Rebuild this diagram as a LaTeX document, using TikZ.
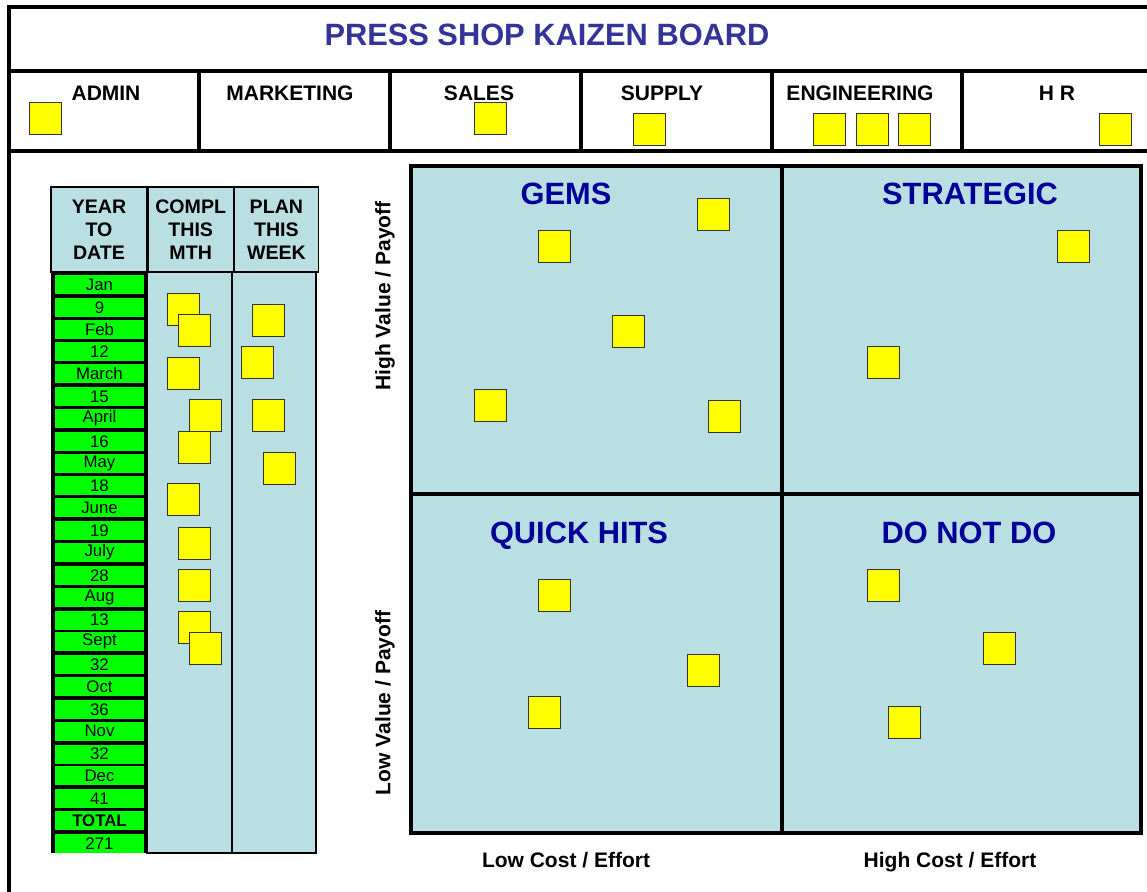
\documentclass[tikz,border=0pt]{standalone}
\usepackage{fontspec}
\setmainfont{Liberation Sans}
\usepackage{xcolor}
\usepackage{tikz}
\usetikzlibrary{positioning}
\definecolor{boardblue}{HTML}{BADFE3}
\definecolor{titleblue}{HTML}{333399}
\definecolor{quadblue}{HTML}{000099}
\definecolor{notegreen}{HTML}{00FF00}
\definecolor{stickyy}{HTML}{FFFF00}
\tikzset{
  boardline/.style={line width=2pt,black},
  thinl/.style={line width=0.6pt,black},
  sticky/.style={draw=black!80,line width=0.5pt,fill=stickyy,minimum size=16pt,inner sep=0pt},
  dept/.style={font=\fontsize{10.5}{12}\selectfont\bfseries,anchor=base,inner sep=0pt},
  quad/.style={font=\fontsize{15.4}{18}\selectfont\bfseries,text=quadblue,anchor=base,inner sep=0pt},
  colhead/.style={draw,thinl,fill=boardblue,align=center,inner sep=0pt,minimum height=42.5pt,font=\fontsize{9.8}{11.5}\selectfont\bfseries},
  gcell/.style={fill=notegreen,minimum width=44.5pt,minimum height=9.5pt,inner sep=0pt,font=\fontsize{8.4}{9}\selectfont},
  axislbl/.style={font=\fontsize{10.5}{12}\selectfont\bfseries,inner sep=0pt}
}
\begin{document}
\begin{tikzpicture}[x=0.5pt,y=-0.5pt]
\useasboundingbox (0,0) rectangle (1147,891);
\clip (0,0) rectangle (1147,891);
% board frame, title row and department row
\draw[boardline] (9,7) rectangle (1170,910);
\draw[boardline] (9,71) -- (1170,71);
\draw[boardline] (9,151) -- (1170,151);
\foreach \xx in {199,390,581,772,962}{\draw[boardline] (\xx,71) -- (\xx,151);}
\node[anchor=base,inner sep=0pt,text=titleblue,font=\fontsize{15.4}{18}\selectfont\bfseries] (title) at (547,45) {PRESS SHOP KAIZEN BOARD};
\foreach \nm/\lbl/\xx in {admin/ADMIN/106,mkt/MARKETING/290,sales/SALES/479,supply/SUPPLY/662,eng/ENGINEERING/860,hr/H R/1057}
  {\node[dept] (\nm) at (\xx,100) {\lbl};}
\foreach \nm/\xx/\yy in {sadmin/45.5/118.5,ssales/490.5/118.5,ssupply/649.5/129.5,seng1/829.5/129.5,seng2/872.5/129.5,seng3/914.5/129.5,shr/1115.5/129.5}
  {\node[sticky] (\nm) at (\xx,\yy) {};}
% tracking table
\fill[black] (51,272) rectangle (147,853);
\draw[thinl,fill=boardblue] (147,272) rectangle (232,853);
\draw[thinl,fill=boardblue] (232,272) rectangle (316,853);
\node[colhead,minimum width=48pt] (ytd) at (99,229.5) {YEAR\\TO\\DATE};
\node[colhead,minimum width=42.5pt,right=0pt of ytd] (compl) {COMPL\\THIS\\MTH};
\node[colhead,minimum width=42pt,right=0pt of compl] (plan) {PLAN\\THIS\\WEEK};
\foreach \m/\n [count=\i from 0] in {Jan/9,Feb/12,March/15,April/16,May/18,June/19,July/28,Aug/13,Sept/32,Oct/36,Nov/32,Dec/41,\textbf{TOTAL}/271}{
  \node[gcell] (m\i) at (99.5,{284.5+44.67*\i}) {\m};
  \node[gcell,below=1.5pt of m\i] (n\i) {\n};
}
\foreach \xx/\yy [count=\k] in {183/309,194/330,183/373,205/415,194/447,183/499.5,194/543,194/585,194/627,205/648}
  {\node[sticky] (c\k) at (\xx,\yy) {};}
\foreach \xx/\yy [count=\k] in {268/320,257/362,268/415,279/468}
  {\node[sticky] (p\k) at (\xx,\yy) {};}
% payoff matrix
\draw[boardline,fill=boardblue] (411,166) rectangle (1141,833);
\draw[boardline] (782,166) -- (782,833);
\draw[boardline] (411,494) -- (1141,494);
\node[quad] (gems) at (566,204) {GEMS};
\node[quad] (strat) at (970,204) {STRATEGIC};
\node[quad] (quick) at (579,543) {QUICK HITS};
\node[quad] (dnd) at (969,543) {DO NOT DO};
\foreach \xx/\yy [count=\k] in {554/246,713/214,628/331,490/405,724/416}
  {\node[sticky] (g\k) at (\xx,\yy) {};}
\foreach \xx/\yy [count=\k] in {1073/246,883/362}
  {\node[sticky] (st\k) at (\xx,\yy) {};}
\foreach \xx/\yy [count=\k] in {554/595,703/670,544/712}
  {\node[sticky] (q\k) at (\xx,\yy) {};}
\foreach \xx/\yy [count=\k] in {883/585,999/648,904/722}
  {\node[sticky] (d\k) at (\xx,\yy) {};}
\node[axislbl,rotate=90] (hival) at (385,296) {High Value / Payoff};
\node[axislbl,rotate=90] (loval) at (385,703) {Low Value / Payoff};
\node[axislbl,anchor=base] (locost) at (566,867) {Low Cost / Effort};
\node[axislbl,anchor=base] (hicost) at (950,867) {High Cost / Effort};
\end{tikzpicture}
\end{document}
